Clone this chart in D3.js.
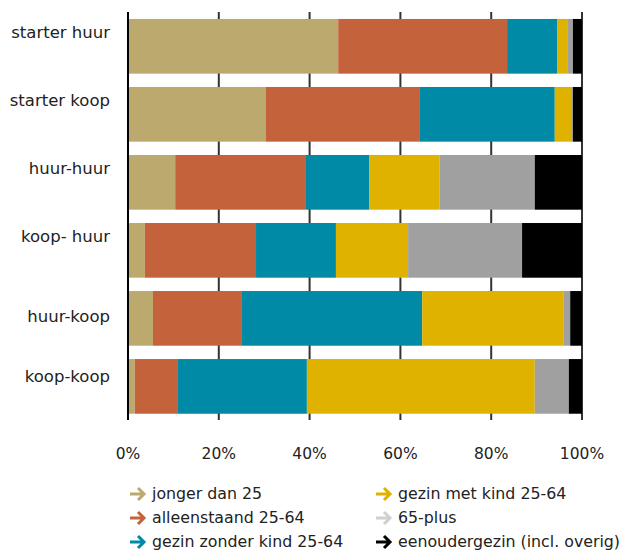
<!DOCTYPE html>
<html>
<head>
<meta charset="utf-8">
<script src="https://cdn.jsdelivr.net/npm/d3@7"></script>
<style>
  body { margin: 0; background: #fff; }
  svg text { font-family: "DejaVu Sans", sans-serif; fill: #222; }
</style>
</head>
<body>
<svg id="chart" width="634" height="551"></svg>
<script>
//////////////////// DATA ////////////////////
const categories = ["starter huur", "starter koop", "huur-huur", "koop- huur", "huur-koop", "koop-koop"];
const seriesNames = ["jonger dan 25", "alleenstaand 25-64", "gezin zonder kind 25-64", "gezin met kind 25-64", "65-plus", "eenoudergezin (incl. overig)"];

// share per category (%), in series order
const jongerDan25 = [46.3, 30.4, 10.4, 3.7, 5.5, 1.5];
const alleenstaand = [37.2, 33.9, 28.8, 24.5, 19.6, 9.5];
const gezinZonderKind = [11.0, 29.7, 13.9, 17.6, 39.7, 28.4];
const gezinMetKind = [2.4, 3.6, 15.5, 15.9, 31.2, 50.2];
const plus65 = [1.1, 0.4, 21.0, 25.1, 1.4, 7.5];
const eenoudergezin = [2.0, 2.0, 10.4, 13.2, 2.6, 2.9];

const tickValues = [0, 20, 40, 60, 80, 100];

const colors = ["#bca96e", "#c4623b", "#008aa5", "#dfb200", "#a0a0a0", "#000000"];
const legendColors = ["#bca96e", "#c4623b", "#008aa5", "#dfb200", "#d0d0d0", "#000000"];

//////////////////// SIZES ////////////////////
const margin = { left: 128, right: 52, top: 12, bottom: 131 };
const width = 634, height = 551;

// labels in the original are not centred on their bars
const labelShift = [-13, -13, -13, -13, -1, -9];

const svg = d3.select("#chart");

// build rows for the stack
const seriesArrays = [jongerDan25, alleenstaand, gezinZonderKind, gezinMetKind, plus65, eenoudergezin];
const rows = categories.map((c, i) => {
    const r = { cat: c };
    seriesNames.forEach((s, j) => r[s] = seriesArrays[j][i]);
    return r;
});

const stacked = d3.stack().keys(seriesNames)(rows);

//////////////////// SCALES ////////////////////
const x = d3.scaleLinear().domain([0, 100]).range([margin.left, width - margin.right]);
const y = d3.scaleBand()
    .domain(categories)
    .range([19 - 6.7, 413.7 + 6.7])
    .paddingInner(0.196)
    .paddingOuter(0.098);

//////////////////// GRIDLINES ////////////////////
svg.append("g")
    .selectAll("line")
    .data(tickValues)
    .join("line")
    .attr("x1", d => x(d))
    .attr("x2", d => x(d))
    .attr("y1", 12)
    .attr("y2", 420)
    .attr("stroke", d => d === 0 ? "#000" : "#333")
    .attr("stroke-width", 2);

//////////////////// BARS ////////////////////
svg.append("g")
    .selectAll("g")
    .data(stacked)
    .join("g")
    .attr("fill", (d, i) => colors[i])
    .selectAll("rect")
    .data(d => d)
    .join("rect")
    .attr("x", d => x(d[0]))
    .attr("y", d => y(d.data.cat))
    .attr("width", d => x(d[1]) - x(d[0]))
    .attr("height", y.bandwidth());

// redraw the 0% axis line on top
svg.append("line")
    .attr("x1", x(0)).attr("x2", x(0))
    .attr("y1", 12).attr("y2", 420)
    .attr("stroke", "#000").attr("stroke-width", 2);

//////////////////// CATEGORY LABELS ////////////////////
svg.append("g")
    .selectAll("text")
    .data(categories)
    .join("text")
    .attr("x", 110)
    .attr("y", (d, i) => y(d) + y.bandwidth() / 2 + labelShift[i])
    .attr("text-anchor", "end")
    .attr("dominant-baseline", "middle")
    .attr("font-size", 16.5)
    .text(d => d);

//////////////////// TICK LABELS ////////////////////
svg.append("g")
    .selectAll("text")
    .data(tickValues)
    .join("text")
    .attr("x", d => x(d))
    .attr("y", 459)
    .attr("text-anchor", "middle")
    .attr("font-size", 15.5)
    .text(d => d + "%");

//////////////////// LEGEND ////////////////////
const legend = svg.append("g")
    .selectAll("g")
    .data(seriesNames)
    .join("g")
    .attr("transform", (d, i) => `translate(${i < 3 ? 130 : 376},${494 + (i % 3) * 24})`);

legend.append("path")
    .attr("d", "M0,0 H14 M8,-6 L14,0 L8,6")
    .attr("fill", "none")
    .attr("stroke", (d, i) => legendColors[i])
    .attr("stroke-width", 3);

legend.append("text")
    .attr("x", 22)
    .attr("y", 0)
    .attr("dominant-baseline", "middle")
    .attr("font-size", 15.8)
    .text(d => d);
</script>
</body>
</html>
